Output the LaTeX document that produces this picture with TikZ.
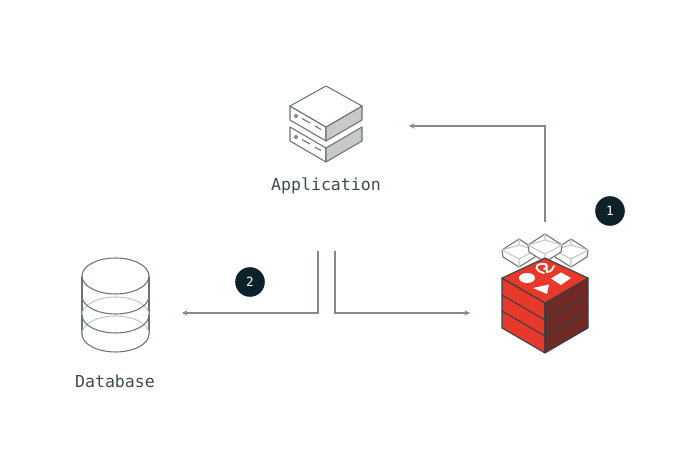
\documentclass[tikz,border=0pt]{standalone}
\usepackage{fontspec}
\setmonofont{DejaVu Sans Mono}
\usetikzlibrary{positioning}
\definecolor{inkdark}{RGB}{13,33,43}
\definecolor{linegray}{RGB}{105,115,118}
\definecolor{flowgray}{RGB}{130,138,142}
\definecolor{labelgray}{RGB}{62,74,80}
\definecolor{sidegray}{RGB}{200,202,202}
\definecolor{redtop}{RGB}{232,56,42}
\definecolor{redside}{RGB}{112,42,38}
\tikzset{
  flow/.style={->,>=stealth,draw=flowgray,line width=0.75pt},
  badge/.style={circle,fill=inkdark,text=white,minimum size=0.74cm,inner sep=0pt,font=\ttfamily\small},
  lbl/.style={font=\ttfamily\fontsize{11.8}{13}\selectfont,text=labelgray,inner sep=0pt},
  wire/.style={draw=linegray,line width=0.75pt,line join=round},
  wirefaint/.style={draw=linegray!40,line width=0.75pt},
  edge/.style={draw=inkdark!85,line width=0.75pt,line join=round},
}
\begin{document}
\begin{tikzpicture}[x=0.025cm,y=-0.025cm]
\useasboundingbox (0,0) rectangle (692,471);
% application icon
\draw[wire,fill=white] (290,127) -- (290,141) -- (326,162) -- (326,148) -- cycle;
\draw[wire,fill=sidegray] (326,148) -- (326,162) -- (362,141) -- (362,127) -- cycle;
\draw[wire,fill=white] (290,106) -- (290,120) -- (326,141) -- (326,127) -- cycle;
\draw[wire,fill=sidegray] (326,127) -- (326,141) -- (362,120) -- (362,106) -- cycle;
\draw[wire,fill=white] (326,86) -- (362,106) -- (326,127) -- (290,106) -- cycle;
\foreach \dy in {0,21}{
  \draw[wire] (296,116+\dy) circle (1.6);
  \draw[wire] (302,118.5+\dy) -- (310,123+\dy);
  \draw[wire] (315,126+\dy) -- (321,129.5+\dy);
}
% database icon
\draw[wire] (82,276) -- (82,334);
\draw[wire] (149,276) -- (149,334);
\draw[wirefaint] (82,315) arc[start angle=180,end angle=360,x radius=33.5,y radius=18];
\draw[wirefaint] (82,334) arc[start angle=180,end angle=360,x radius=33.5,y radius=18];
\draw[wire] (82,296) arc[start angle=180,end angle=0,x radius=33.5,y radius=18];
\draw[wire] (82,315) arc[start angle=180,end angle=0,x radius=33.5,y radius=18];
\draw[wire] (82,334) arc[start angle=180,end angle=0,x radius=33.5,y radius=18];
\draw[wire,fill=white] (115.5,276) ellipse[x radius=33.5,y radius=18];
% wire cubes
\foreach \cx/\cy in {519/239,571/239,545/234}{
  \draw[wire,fill=white] (\cx,\cy) -- (\cx+17,\cy+11) -- (\cx+16,\cy+18) -- (\cx,\cy+28) -- (\cx-16,\cy+18) -- (\cx-17,\cy+11) -- cycle;
  \draw[wirefaint] (\cx,\cy+6) -- (\cx-17,\cy+11) (\cx,\cy+6) -- (\cx+17,\cy+11) (\cx,\cy) -- (\cx,\cy+6);
  \draw[wirefaint] (\cx-17,\cy+11) -- (\cx,\cy+20) -- (\cx+17,\cy+11) (\cx,\cy+20) -- (\cx,\cy+28);
}
% red stack
\draw[edge,fill=redtop] (502,278) -- (545,303) -- (545,353) -- (502,328) -- cycle;
\draw[edge,fill=redside] (545,303) -- (588,278) -- (588,328) -- (545,353) -- cycle;
\draw[edge,fill=redtop] (545,258) -- (588,278) -- (545,303) -- (502,278) -- cycle;
\draw[edge] (502,295) -- (545,320) -- (588,295);
\draw[edge] (502,311) -- (545,336) -- (588,311);
\fill[white] (527,278) ellipse[x radius=8,y radius=5];
\fill[white] (561,272.5) -- (571,278) -- (561,285) -- (551,278.5) -- cycle;
\fill[white] (533,288) -- (549,284.5) -- (547,294) -- cycle;
\draw[white,line width=1.3pt,line cap=round] (544,273) .. controls (535,271) and (534,265) .. (541,264) .. controls (548,263) and (549,268) .. (544,269) (546,264) -- (547,272) .. controls (551,272) and (553,269) .. (554,266);
% labels
\node[lbl] (app) at (326,186) {Application};
\node[lbl] (db) at (115,381) {Database};
\node[badge] (one) at (610,211) {1};
\node[badge] (two) at (250,282) {2};
% anchors of the flows
\coordinate (appleft) at (318,251);
\coordinate (appright) at (335,251);
\coordinate (cachein) at (470,313);
\coordinate (dbin) at (182,313);
\coordinate (cacheout) at (545,222);
\coordinate (appin) at (409,126);
\draw[flow] (appleft) |- (dbin);
\draw[flow] (appright) |- (cachein);
\draw[flow] (cacheout) |- (appin);
\end{tikzpicture}
\end{document}
